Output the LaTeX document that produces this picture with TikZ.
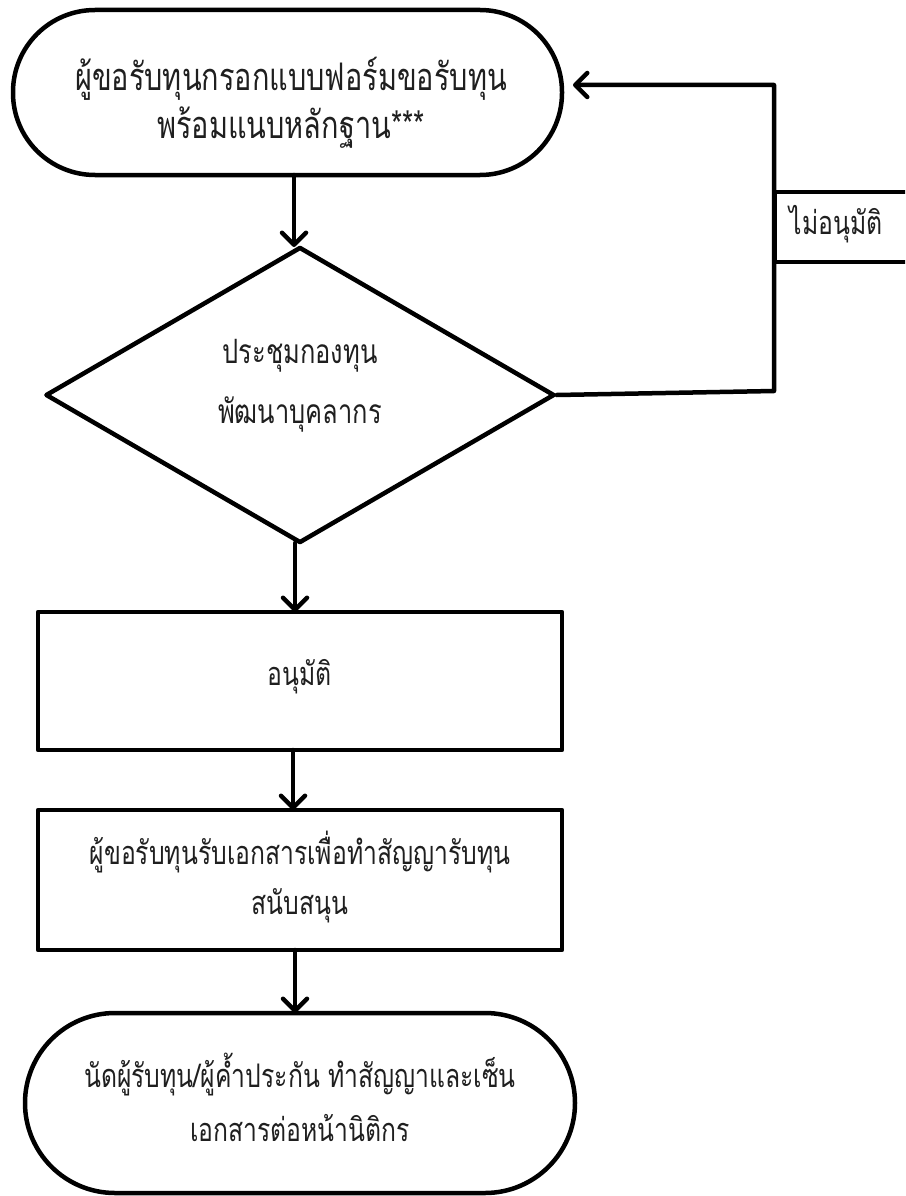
\documentclass[tikz,border=0pt]{standalone}
\usepackage{fontspec}
\newfontfamily\thai[Script=Thai,FakeStretch=0.76]{Loma}
\usetikzlibrary{arrows.meta,shapes.geometric}
\begin{document}
\begin{tikzpicture}[x=1pt,y=-1pt,
  line width=4.5pt, line join=round, line cap=round,
  txt/.style={font=\thai\fontsize{32.5}{50}\selectfont, align=center, inner sep=0pt, text=black!88},
  terminal/.style={draw, rectangle, inner sep=0pt, line width=4.5pt},
  procbox/.style={draw, rectangle, inner sep=0pt, line width=4.5pt, minimum width=524pt, minimum height=138pt},
  decision/.style={draw, diamond, inner sep=0pt, line width=4.5pt, minimum width=509pt, minimum height=296pt},
  flow/.style={-{Straight Barb[length=12pt,width=24pt,line cap=round,line join=round]}, line width=4.5pt},
  tagbox/.style={draw, fill=white, rectangle, inner sep=0pt, line width=4.5pt, minimum width=170pt, minimum height=70pt}
]
\useasboundingbox (0,0) rectangle (905,1196);
\clip (0,0) rectangle (905,1196);

% start terminal
\node[terminal, minimum width=549pt, minimum height=165pt, rounded corners=82pt] (start) at (287.5,92.5) {};
\node[txt, font=\thai\fontsize{38}{48}\selectfont] (starttext) at (291,103) {ผู้ขอรับทุนกรอกแบบฟอร์มขอรับทุน\\พร้อมแนบหลักฐาน***};

% committee decision
\node[decision] (dec) at (300,395) {};
\node[txt, font=\thai\fontsize{33.5}{60}\selectfont] (dectext) at (300,386) {ประชุมกองทุน\\พัฒนาบุคลากร};

% approved
\node[procbox] (ok) at (300,681) {};
\node[txt] (oktext) at (300,677) {อนุมัติ};

% receive documents
\node[procbox, minimum height=140pt] (docs) at (300,880) {};
\node[txt] (docstext) at (300,877) {ผู้ขอรับทุนรับเอกสารเพื่อทำสัญญารับทุน\\สนับสนุน};

% end terminal
\node[terminal, minimum width=550pt, minimum height=180pt, rounded corners=90pt] (finish) at (300,1103) {};
\node[txt, font=\thai\fontsize{32.5}{54}\selectfont] (finishtext) at (300,1097) {นัดผู้รับทุน/ผู้ค้ำประกัน ทำสัญญาและเซ็น\\เอกสารต่อหน้านิติกร};

% main flow
\coordinate (s1) at (294,175);
\coordinate (e1) at (294,247);
\coordinate (s2) at (295,543);
\coordinate (e2) at (295,612);
\coordinate (s3) at (293,750);
\coordinate (e3) at (293,810);
\coordinate (s4) at (295,950);
\coordinate (e4) at (295,1013);
\draw[flow] (s1) -- (e1);
\draw[flow] (s2) -- (e2);
\draw[flow] (s3) -- (e3);
\draw[flow] (s4) -- (e4);

% rejection loop back to the application
\coordinate (loopbot) at (774,391);
\coordinate (looptop) at (774,85);
\coordinate (loopend) at (573,85);
\draw[flow] (dec.east) -- (loopbot) -- (looptop) -- (loopend);
\node[tagbox, anchor=west] (reject) at (772,227) {};
\node[txt] (rejecttext) at (836,224) {ไม่อนุมัติ};
\end{tikzpicture}
\end{document}
